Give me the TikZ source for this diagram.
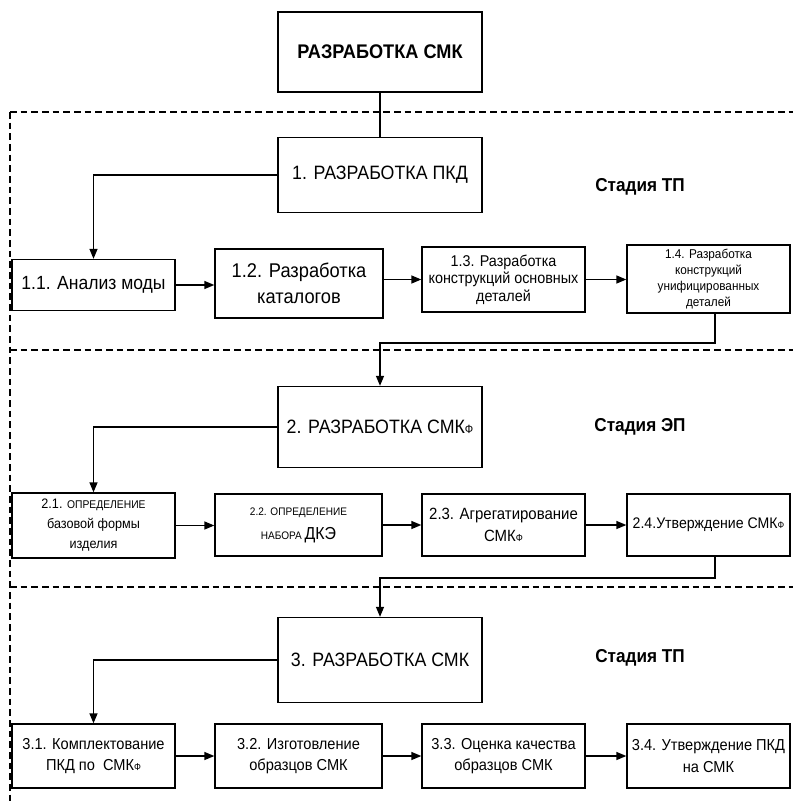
\documentclass[tikz,border=0pt]{standalone}
\usepackage{fontspec}
\setmainfont{Liberation Sans}[FakeStretch=0.92]
\usetikzlibrary{arrows.meta}
\newcommand\myF{\scalebox{0.62}{Ф}}
\begin{document}
\begin{tikzpicture}[x=0.75pt,y=-0.75pt,
  box/.style={draw,line width=1pt,align=center,inner sep=1pt},
  sz/.style 2 args={minimum width=#1*0.75pt,minimum height=#2*0.75pt},
  conn/.style={line width=1pt},
  arr/.style={line width=1pt,-{Triangle[length=7.5pt,width=6pt]}},
  stage/.style={font=\bfseries\fontsize{14}{16}\selectfont},
  frameline/.style={line width=0.9pt,dash pattern=on 5pt off 3pt}]
\useasboundingbox (0,0) rectangle (793,805);
% dashed frames
\draw[frameline] (10,112) -- (793,112);
\draw[frameline] (10,112) -- (10,805);
\draw[frameline] (10,350) -- (793,350);
\draw[frameline] (10,587) -- (793,587);
% main boxes
\node[box,sz={204}{80},fill=white,font=\bfseries\fontsize{14.8}{17}\selectfont] (top) at (380,52) {РАЗРАБОТКА СМК};
\node[box,sz={204}{75},fill=white,font=\fontsize{14.5}{17}\selectfont] (b1) at (380,175) {1. РАЗРАБОТКА ПКД};
\node[box,sz={204}{81},fill=white,font=\fontsize{14.5}{17}\selectfont] (b2) at (380,427) {2. РАЗРАБОТКА СМК\myF};
\node[box,sz={204}{85},fill=white,font=\fontsize{14.5}{17}\selectfont] (b3) at (380,660) {3. РАЗРАБОТКА СМК};
% stage labels
\node[stage] (s1) at (640,187) {Стадия ТП};
\node[stage] (s2) at (640,427) {Стадия ЭП};
\node[stage] (s3) at (640,658) {Стадия ТП};
% row 1
\node[box,sz={163}{51},font=\fontsize{14.3}{16}\selectfont] (r11) at (93.5,285) {1.1. Анализ моды};
\node[box,sz={168}{69},font=\fontsize{14.9}{19.5}\selectfont] (r12) at (299,283.5) {1.2. Разработка\\каталогов};
\node[box,sz={163}{65},font=\fontsize{11.7}{13}\selectfont] (r13) at (503.5,279.5) {1.3. Разработка\\конструкций основных\\деталей};
\node[box,sz={163}{68},font=\fontsize{9.6}{12}\selectfont] (r14) at (708.5,279) {1.4. Разработка\\конструкций\\унифицированных\\деталей};
% row 2
\node[box,sz={163}{65},font=\fontsize{10.3}{15}\selectfont] (r21) at (93.5,525.5) {2.1. {\fontsize{8.4}{9}\selectfont ОПРЕДЕЛЕНИЕ}\\базовой формы\\изделия};
\node[box,sz={167}{62},font=\fontsize{8.2}{18}\selectfont] (r22) at (298.5,525) {2.2. ОПРЕДЕЛЕНИЕ\\НАБОРА {\fontsize{13}{14}\selectfont ДКЭ}};
\node[box,sz={163}{62},font=\fontsize{12.2}{16.5}\selectfont] (r23) at (503.5,525) {2.3. Агрегатирование\\СМК\myF};
\node[box,sz={163}{62},font=\fontsize{11.5}{14}\selectfont] (r24) at (708.5,525) {2.4.Утверждение СМК\myF};
% row 3
\node[box,sz={163}{64},font=\fontsize{11.9}{15.8}\selectfont] (r31) at (93.5,756) {3.1. Комплектование\\ПКД по\ \ СМК\myF};
\node[box,sz={167}{64},font=\fontsize{11.9}{15.8}\selectfont] (r32) at (298.5,756) {3.2. Изготовление\\образцов СМК};
\node[box,sz={163}{64},font=\fontsize{11.9}{15.8}\selectfont] (r33) at (503.5,756) {3.3. Оценка качества\\образцов СМК};
\node[box,sz={163}{64},font=\fontsize{11.9}{15.8}\selectfont] (r34) at (708.5,756) {3.4. Утверждение ПКД\\на СМК};
% connectors
\draw[conn] (top.south) -- (b1.north);
\draw[arr] (b1.west) -| (r11.north);
\draw[arr] (b2.west) -| (r21.north);
\draw[arr] (b3.west) -| (r31.north);
\draw[arr] (r11.east) -- (r11.east -| r12.west);
\draw[arr] (r12.east |- r13.west) -- (r13.west);
\draw[arr] (r13.east) -- (r13.east -| r14.west);
\draw[arr] (r21.east) -- (r21.east -| r22.west);
\draw[arr] (r22.east) -- (r22.east -| r23.west);
\draw[arr] (r23.east) -- (r23.east -| r24.west);
\draw[arr] (r31.east) -- (r31.east -| r32.west);
\draw[arr] (r32.east) -- (r32.east -| r33.west);
\draw[arr] (r33.east) -- (r33.east -| r34.west);
\coordinate (k1) at (715,343);
\coordinate (k2) at (715,578);
\draw[arr] (r14.south -| k1) -- (k1) -| (b2.north);
\draw[arr] (r24.south -| k2) -- (k2) -| (b3.north);
\end{tikzpicture}
\end{document}
